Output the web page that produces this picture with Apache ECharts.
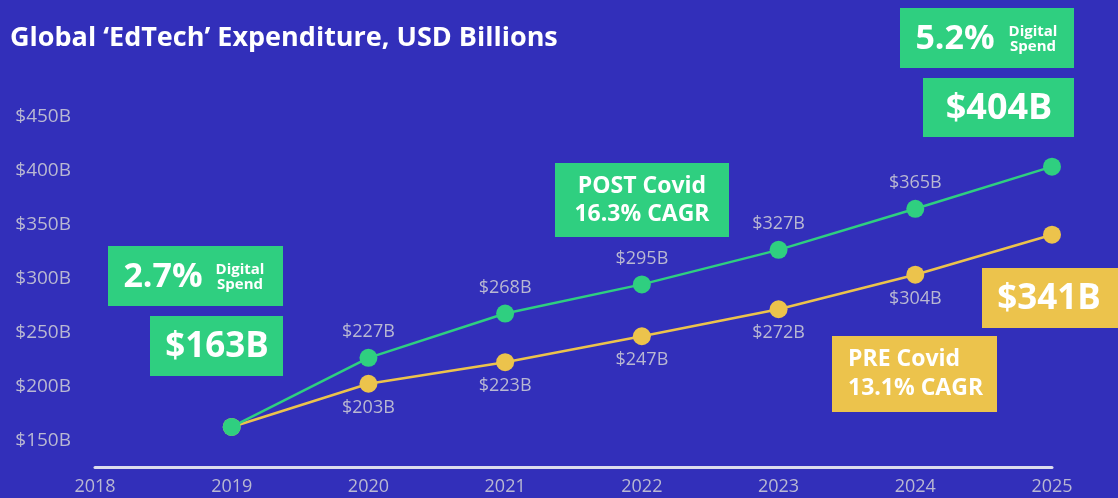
<!DOCTYPE html>
<html>
<head>
<meta charset="utf-8">
<script src="https://cdn.jsdelivr.net/npm/echarts@6/dist/echarts.min.js"></script>
<style>
  html, body { margin: 0; padding: 0; background: #322fba; }
  #chart { width: 1118px; height: 498px; }
</style>
</head>
<body>
<div id="chart"></div>
<script>
// Years on the x axis (2018 has no data point)
const years = ['2018', '2019', '2020', '2021', '2022', '2023', '2024', '2025'];
// Spend in USD billions
const postCovid = [null, 163, 227, 268, 295, 327, 365, 404];
const preCovid  = [null, 163, 203, 223, 247, 272, 304, 341];
// Digital share of spend at start and end
const digitalShare = { start: '2.7%', end: '5.2%' };
const cagr = { post: '16.3%', pre: '13.1%' };

const BG = '#322fba';
const GREEN = '#2fcf80';
const YELLOW = '#ecc34c';
const GREY = '#b9b8d2';
const FONT = '"Open Sans", Lato, sans-serif';

const fmt = v => '$' + v + 'B';
const firstIdx = 1, lastIdx = years.length - 1;

// annotation box helper: filled rect with a text block inside it
function box(x, y, w, h, color, children) {
  return {
    type: 'group', x: x, y: y,
    children: [{ type: 'rect', shape: { x: 0, y: 0, width: w, height: h }, style: { fill: color } }].concat(children)
  };
}
function txt(x, y, text, size, align, lineHeight) {
  return {
    type: 'text', x: x, y: y,
    style: {
      text: text, fill: '#ffffff', font: 'bold ' + size + 'px ' + FONT,
      textAlign: align || 'center', textVerticalAlign: 'middle', lineHeight: lineHeight || size
    }
  };
}

const chart = echarts.init(document.getElementById('chart'));
chart.setOption({
  backgroundColor: BG,
  animation: false,
  title: {
    text: 'Global \u2018EdTech\u2019 Expenditure, USD Billions',
    left: 5, top: 20,
    textStyle: { color: '#ffffff', fontSize: 27, fontWeight: 'bold', fontFamily: FONT }
  },
  grid: { left: 95, right: 66, top: 117, bottom: 57 },
  xAxis: {
    type: 'category', data: years, boundaryGap: false, offset: 26,
    axisLine: { lineStyle: { color: '#dcdcec', width: 3 } },
    axisTick: { show: false },
    axisLabel: { color: GREY, fontSize: 18, fontFamily: FONT, margin: 11 },
    splitLine: { show: false }
  },
  yAxis: {
    type: 'value', min: 150, max: 450, interval: 50,
    axisLine: { show: false }, axisTick: { show: false }, splitLine: { show: false },
    axisLabel: { color: GREY, fontSize: 19, fontFamily: FONT, margin: 24, formatter: v => '$' + v + 'B' }
  },
  series: [
    {
      name: 'PRE Covid', type: 'line', data: preCovid,
      symbol: 'circle', symbolSize: 18,
      itemStyle: { color: YELLOW }, lineStyle: { color: YELLOW, width: 2.5 },
      label: {
        show: true, position: 'bottom', distance: 6, color: GREY, fontSize: 18, fontFamily: FONT,
        formatter: p => (p.dataIndex <= firstIdx || p.dataIndex === lastIdx) ? '' : fmt(p.value)
      },
      z: 2
    },
    {
      name: 'POST Covid', type: 'line', data: postCovid,
      symbol: 'circle', symbolSize: 18,
      itemStyle: { color: GREEN }, lineStyle: { color: GREEN, width: 2.5 },
      label: {
        show: true, position: 'top', distance: 8, color: GREY, fontSize: 18, fontFamily: FONT,
        formatter: p => (p.dataIndex <= firstIdx || p.dataIndex === lastIdx) ? '' : fmt(p.value)
      },
      z: 3
    }
  ],
  graphic: [
    // start-year callouts
    box(108, 246, 175, 60, GREEN, [
      txt(55, 31, digitalShare.start, 34),
      txt(132, 31, 'Digital\nSpend', 15, 'center', 15)
    ]),
    box(150, 316, 133, 60, GREEN, [txt(67, 31, fmt(postCovid[firstIdx]), 35)]),
    // end-year callouts
    box(900, 8, 174, 60, GREEN, [
      txt(55, 31, digitalShare.end, 34),
      txt(133, 31, 'Digital\nSpend', 15, 'center', 15)
    ]),
    box(923, 78, 151, 59, GREEN, [txt(76, 31, fmt(postCovid[lastIdx]), 36)]),
    box(982, 268, 136, 60, YELLOW, [txt(67, 31, fmt(preCovid[lastIdx]), 35)]),
    // CAGR callouts
    box(555, 163, 174, 74, GREEN, [txt(87, 37, 'POST Covid\n' + cagr.post + ' CAGR', 23, 'center', 28)]),
    box(832, 336, 165, 76, YELLOW, [txt(16, 38, 'PRE Covid\n' + cagr.pre + ' CAGR', 23, 'left', 29)])
  ]
});
</script>
</body>
</html>
